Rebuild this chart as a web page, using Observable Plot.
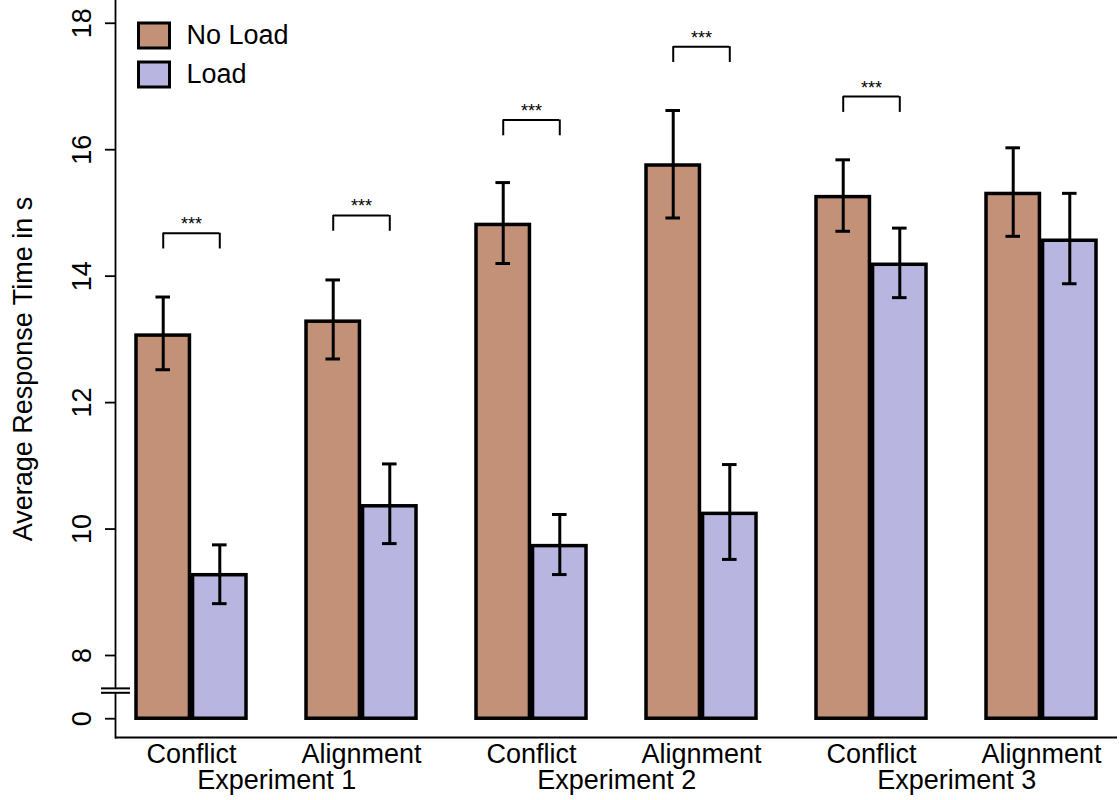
<!DOCTYPE html>
<html>
<head>
<meta charset="utf-8">
<script src="https://cdn.jsdelivr.net/npm/d3@7"></script>
<script src="https://cdn.jsdelivr.net/npm/@observablehq/plot@0.6"></script>
<style>
  html, body { margin: 0; padding: 0; background: #fff; }
  #chart { width: 1120px; height: 800px; }
</style>
</head>
<body>
<div id="chart"></div>
<script>
// ---- data ----
const experiments = ["Experiment 1", "Experiment 2", "Experiment 3"];
const conditions = ["Conflict", "Alignment"];
const series = ["No Load", "Load"];
const seriesColors = ["#C29178", "#B8B5E0"];

// order: E1 Conflict, E1 Alignment, E2 Conflict, E2 Alignment, E3 Conflict, E3 Alignment
const noLoadMean = [13.06, 13.28, 14.81, 15.75, 15.25, 15.30];
const noLoadLow  = [12.52, 12.69, 14.20, 14.92, 14.71, 14.63];
const noLoadHigh = [13.67, 13.94, 15.48, 16.62, 15.84, 16.03];
const loadMean   = [9.27, 10.36, 9.73, 10.24, 14.18, 14.56];
const loadLow    = [8.82, 9.77, 9.28, 9.52, 13.66, 13.88];
const loadHigh   = [9.75, 11.03, 10.23, 11.02, 14.76, 15.31];
const significance = ["***", "***", "***", "***", "***", ""];
const bracketLevel = [14.68, 14.96, 16.47, 17.63, 16.84, null];

// y axis with a break: the value 7 on the scale is shown as "0"
const breakBase = 7;
const yTicks = [7, 8, 10, 12, 14, 16, 18];
const yTickLabels = ["0", "8", "10", "12", "14", "16", "18"];
const breakMarks = [7.41, 7.48];

// ---- table ----
const rows = [];
experiments.forEach((e, ei) => conditions.forEach((c, ci) => {
  const i = ei * conditions.length + ci;
  rows.push({
    key: e + "|" + c, experiment: e, condition: c,
    noLoad: noLoadMean[i], noLoadLow: noLoadLow[i], noLoadHigh: noLoadHigh[i],
    load: loadMean[i], loadLow: loadLow[i], loadHigh: loadHigh[i],
    sig: significance[i], bracket: bracketLevel[i]
  });
}));
const keys = rows.map(d => d.key);
const sigRows = rows.filter(d => d.sig);
const firstRows = rows.filter(d => d.condition === conditions[0]);

// ---- layout ----
const W = 1120, H = 800;
const mL = 115, mR = 3, mT = 0, mB = 63;
const padInner = 0.352, padOuter = 0.116;
const plotW = W - mL - mR;
const step = plotW / (keys.length - padInner + 2 * padOuter);
const bw = step * (1 - padInner);
const halfGap = 1.35;
const barInset = bw / 2 + halfGap;
const off = bw / 4 + halfGap / 2;       // bar centre offset from band centre
const capW = 15;
const legLen = 0.25;
const font = "'Liberation Sans', Arial, Helvetica, sans-serif";
const fs = 27;
const barStroke = 3.5, errStroke = 3;

const boxSymbol = { draw(ctx) { ctx.rect(-15.5, -12.5, 31, 25); } };

const chart = Plot.plot({
  width: W, height: H,
  marginLeft: mL, marginRight: mR, marginTop: mT, marginBottom: mB,
  style: { fontFamily: font, fontSize: fs + "px", background: "#fff", color: "#000", overflow: "visible" },
  x: { domain: keys, paddingInner: padInner, paddingOuter: padOuter, axis: null },
  y: { domain: [6.703, 18.36], axis: null },
  marks: [
    // bars
    Plot.barY(rows, { x: "key", y1: () => breakBase, y2: "noLoad", insetRight: barInset,
      fill: seriesColors[0], stroke: "#000", strokeWidth: barStroke }),
    Plot.barY(rows, { x: "key", y1: () => breakBase, y2: "load", insetLeft: barInset,
      fill: seriesColors[1], stroke: "#000", strokeWidth: barStroke }),
    // error bars
    Plot.ruleX(rows, { x: "key", y1: "noLoadLow", y2: "noLoadHigh", dx: -off, stroke: "#000", strokeWidth: errStroke }),
    Plot.ruleX(rows, { x: "key", y1: "loadLow", y2: "loadHigh", dx: off, stroke: "#000", strokeWidth: errStroke }),
    Plot.tickY(rows, { x: "key", y: "noLoadLow", dx: -off, insetLeft: (bw - capW) / 2, insetRight: (bw - capW) / 2, stroke: "#000", strokeWidth: errStroke }),
    Plot.tickY(rows, { x: "key", y: "noLoadHigh", dx: -off, insetLeft: (bw - capW) / 2, insetRight: (bw - capW) / 2, stroke: "#000", strokeWidth: errStroke }),
    Plot.tickY(rows, { x: "key", y: "loadLow", dx: off, insetLeft: (bw - capW) / 2, insetRight: (bw - capW) / 2, stroke: "#000", strokeWidth: errStroke }),
    Plot.tickY(rows, { x: "key", y: "loadHigh", dx: off, insetLeft: (bw - capW) / 2, insetRight: (bw - capW) / 2, stroke: "#000", strokeWidth: errStroke }),
    // significance brackets
    Plot.tickY(sigRows, { x: "key", y: "bracket", insetLeft: bw / 2 - off, insetRight: bw / 2 - off, stroke: "#000", strokeWidth: 2 }),
    Plot.ruleX(sigRows, { x: "key", y1: d => d.bracket - legLen, y2: "bracket", dx: -off, stroke: "#000", strokeWidth: 2 }),
    Plot.ruleX(sigRows, { x: "key", y1: d => d.bracket - legLen, y2: "bracket", dx: off, stroke: "#000", strokeWidth: 2 }),
    Plot.text(sigRows, { x: "key", y: "bracket", text: "sig", lineAnchor: "bottom", dy: -3, fontSize: 18, fill: "#000" }),
    // axes
    Plot.ruleY([6.703], { stroke: "#000", strokeWidth: 1.8 }),
    Plot.frame({ anchor: "left", stroke: "#000", strokeWidth: 1.8 }),
    Plot.axisY({ ticks: yTicks, tickSize: 10, tickFormat: () => "", strokeWidth: 1.8 }),
    Plot.text(yTicks, { y: d => d, text: (d, i) => yTickLabels[i], frameAnchor: "left", dx: -33,
      rotate: -90, textAnchor: "middle", lineAnchor: "middle", fill: "#000" }),
    // axis break
    Plot.ruleY([(breakMarks[0] + breakMarks[1]) / 2], { dx: -6, insetRight: plotW - 12, stroke: "#fff", strokeWidth: 3 }),
    Plot.ruleY(breakMarks, { dx: -14, insetRight: plotW - 29, stroke: "#000", strokeWidth: 2 }),
    Plot.text(["Average Response Time in s"], { frameAnchor: "left", dx: -92, rotate: -90,
      textAnchor: "middle", lineAnchor: "middle", fill: "#000" }),
    // category labels
    Plot.text(rows, { x: "key", text: "condition", frameAnchor: "bottom", dy: 17, lineAnchor: "middle", fill: "#000" }),
    Plot.text(firstRows, { x: "key", text: "experiment", frameAnchor: "bottom", dx: step / 2, dy: 43, lineAnchor: "middle", fill: "#000" }),
    // legend
    Plot.dot([series[0]], { frameAnchor: "top-left", dx: 38.5, dy: 35, symbol: boxSymbol, r: 5, fill: seriesColors[0], stroke: "#000", strokeWidth: 3 }),
    Plot.dot([series[1]], { frameAnchor: "top-left", dx: 38.5, dy: 74, symbol: boxSymbol, r: 5, fill: seriesColors[1], stroke: "#000", strokeWidth: 3 }),
    Plot.text([series[0]], { frameAnchor: "top-left", dx: 71, dy: 35, text: d => d, textAnchor: "start", lineAnchor: "middle", fill: "#000" }),
    Plot.text([series[1]], { frameAnchor: "top-left", dx: 71, dy: 74, text: d => d, textAnchor: "start", lineAnchor: "middle", fill: "#000" })
  ]
});
document.getElementById("chart").appendChild(chart);
</script>
</body>
</html>
